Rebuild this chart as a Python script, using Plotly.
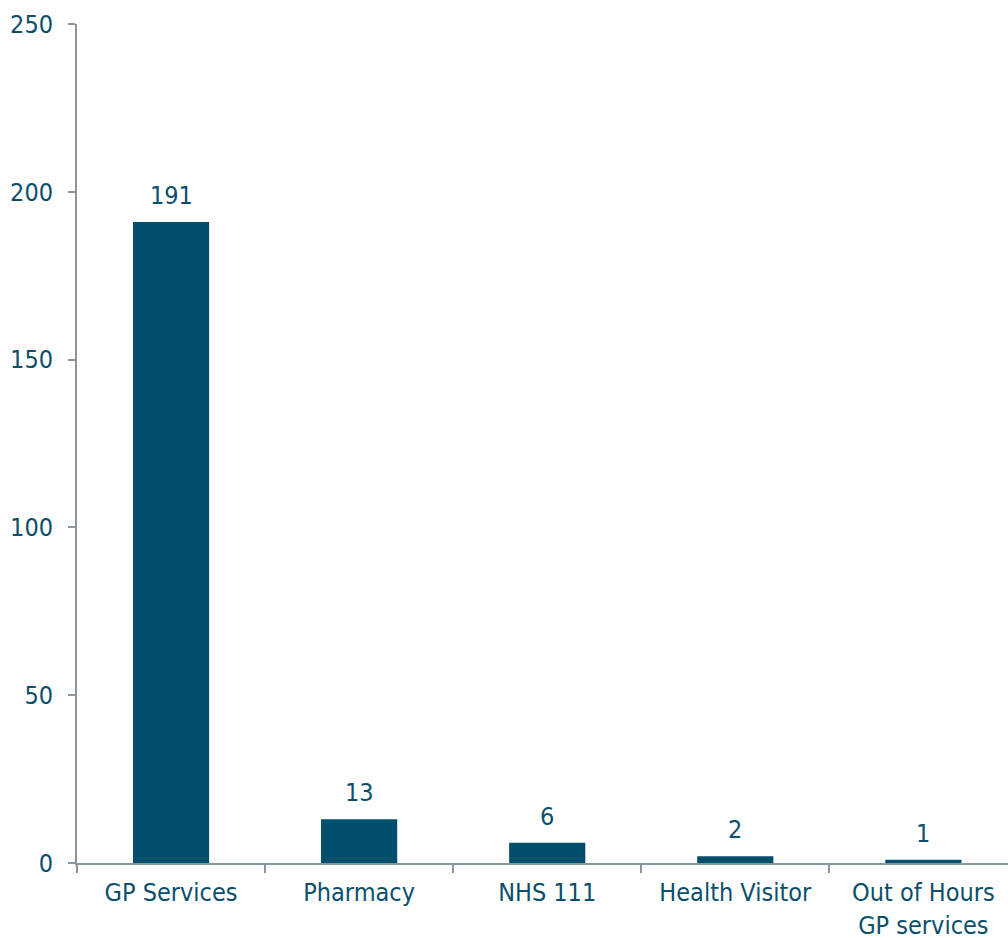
import plotly.graph_objects as go

services = ["GP Services", "Pharmacy", "NHS 111", "Health Visitor", "Out of Hours<br>GP services"]
counts = [191, 13, 6, 2, 1]
y_ticks = [0, 50, 100, 150, 200, 250]

BAR = "#024f6b"
TEXT = "#0b4f6c"
AXIS = "#8a959e"
FONT = "DejaVu Sans Condensed, DejaVu Sans"
SIZE = 25

fig = go.Figure(
    go.Bar(
        x=services,
        y=counts,
        marker=dict(color=BAR, line=dict(width=0)),
        width=0.405,
        hoverinfo="x+y",
    )
)

# value labels above each bar
for name, v in zip(services, counts):
    fig.add_annotation(
        x=name,
        y=v,
        text=str(v),
        showarrow=False,
        yanchor="bottom",
        yshift=10,
        font=dict(family=FONT, size=SIZE, color=TEXT),
    )

fig.update_layout(
    width=1008,
    height=938,
    margin=dict(l=77, r=0, t=24, b=75),
    plot_bgcolor="white",
    paper_bgcolor="white",
    font=dict(family=FONT, size=SIZE, color=TEXT),
    showlegend=False,
)

fig.update_xaxes(
    type="category",
    range=[-0.5, 4.45],
    tickson="boundaries",
    ticks="outside",
    ticklen=8,
    tickcolor=AXIS,
    tickwidth=2,
    showline=True,
    linecolor=AXIS,
    linewidth=2,
    showgrid=False,
    automargin=False,
    ticklabelstandoff=6,
    tickfont=dict(family=FONT, size=SIZE, color=TEXT),
)

fig.update_yaxes(
    range=[0, 250],
    tickvals=y_ticks,
    ticks="outside",
    ticklen=7,
    tickcolor=AXIS,
    tickwidth=2,
    showline=True,
    linecolor=AXIS,
    linewidth=2,
    showgrid=False,
    zeroline=False,
    automargin=False,
    ticklabelstandoff=10,
    tickfont=dict(family=FONT, size=SIZE, color=TEXT),
)

fig.write_html("out.html")
